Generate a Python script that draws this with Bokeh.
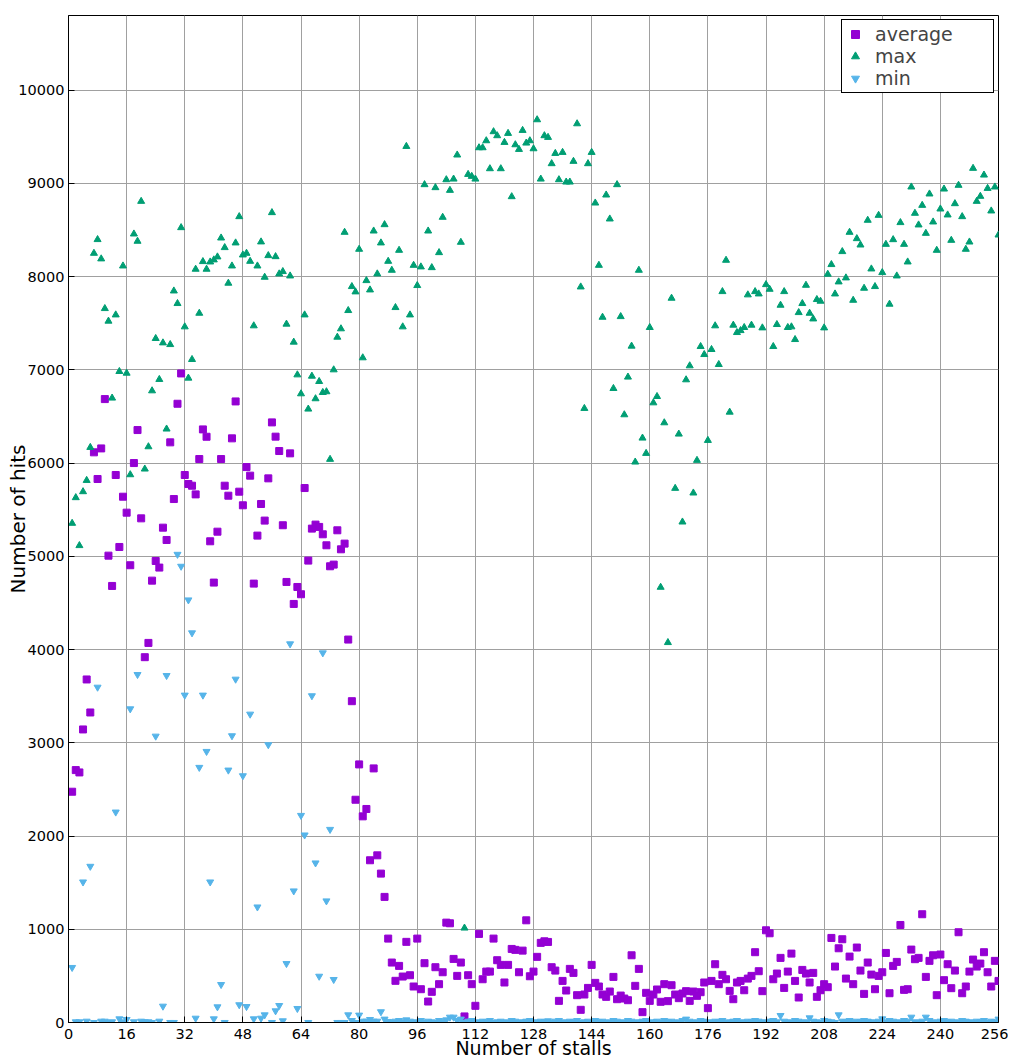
from bokeh.plotting import figure
from bokeh.models import Range1d, FixedTicker, Legend, LegendItem, ColumnDataSource
from bokeh.embed import file_html
from bokeh.resources import INLINE

stalls = list(range(1, 257))

hits_max = [
    5354, 5629, 5115, 5693, 5814, 6168, 8250, 8397, 8190, 7657,
    7522, 6697, 7589, 6982, 8114, 6964, 5875, 8457, 8379, 8807,
    5936, 6175, 6775, 7336, 6897, 7289, 6365, 7271, 7846, 7711,
    8525, 7461, 6911, 7111, 8079, 7607, 8161, 8079, 8157, 8179,
    8211, 8414, 8311, 7929, 8114, 8361, 8643, 8232, 8250, 8164,
    7472, 8114, 8372, 7993, 8225, 8686, 8214, 8029, 8054, 7490,
    8007, 7297, 6946, 6743, 7589, 6579, 6932, 6690, 6875, 6757,
    6765, 6040, 7000, 7350, 7440, 8475, 7636, 7893, 7836, 8293,
    7129, 7957, 7857, 8489, 8029, 8361, 8557, 8164, 8068, 7668,
    8282, 7461, 9396, 7589, 8121, 7904, 8104, 8986, 8489, 8096,
    8954, 8257, 8636, 9039, 8925, 9046, 9304, 8368, 1013, 9096,
    9075, 9046, 9382, 9382, 9457, 9157, 9554, 9511, 9157, 9439,
    9536, 8857, 9414, 9364, 9568, 9432, 9457, 9371, 9682, 9046,
    9511, 9493, 9211, 9321, 9039, 9332, 9014, 9014, 9236, 9639,
    7889, 6586, 9211, 9332, 8789, 8121, 7564, 8875, 8618, 6800,
    8986, 7571, 6518, 6922, 7254, 6011, 8068, 6268, 6104, 7454,
    6646, 6714, 4668, 6432, 4075, 7768, 5729, 6311, 5368, 6893,
    7043, 5679, 6029, 7250, 7164, 6243, 7218, 7472, 7057, 7839,
    8175, 6546, 7479, 7400, 7421, 7454, 7804, 7479, 7839, 7814,
    7450, 7914, 7864, 7250, 7486, 7693, 7839, 7454, 7461, 7325,
    7614, 7711, 7907, 7607, 7546, 7754, 7736, 7450, 8025, 8129,
    7814, 7943, 8268, 7986, 8475, 7746, 8407, 8339, 7875, 8604,
    8082, 7893, 8657, 8043, 8346, 7704, 8396, 8007, 8579, 8346,
    8157, 8961, 8679, 8554, 8764, 8464, 8886, 8586, 8282, 8725,
    8939, 8661, 8389, 8782, 8979, 8643, 8293, 8371, 9161, 8807,
    8861, 9089, 8946, 8704, 8961, 8446,
]

hits_avg = [
    2475, 2707, 2682, 3143, 3679, 3325, 6115, 5829, 6157, 6686,
    5007, 4682, 5872, 5100, 5639, 5468, 4904, 6000, 6354, 5407,
    3918, 4071, 4739, 4950, 4879, 5307, 5175, 6222, 5614, 6636,
    6961, 5872, 5775, 5757, 5664, 6043, 6361, 6282, 5161, 4718,
    5264, 6043, 5757, 5650, 6265, 6661, 5693, 5547, 5957, 5865,
    4707, 5222, 5561, 5383, 5836, 6436, 6283, 6129, 5333, 4725,
    6104, 4489, 4671, 4593, 5732, 4954, 5297, 5340, 5315, 5236,
    5118, 4893, 4911, 5279, 5075, 5136, 4107, 3446, 2389, 2768,
    2211, 2290, 1740, 2725, 1793, 1597, 1347, 900, 643, 447,
    607, 493, 865, 507, 386, 900, 357, 636, 225, 329,
    593, 411, 539, 1071, 1064, 682, 500, 643, 65, 507,
    411, 179, 950, 464, 546, 546, 900, 668, 618, 429,
    618, 789, 779, 539, 771, 1096, 496, 546, 704, 854,
    871, 864, 593, 557, 232, 446, 343, 575, 532, 293,
    136, 300, 371, 618, 425, 386, 300, 275, 332, 489,
    250, 289, 257, 239, 721, 393, 575, 111, 318, 232,
    300, 354, 222, 411, 229, 400, 300, 261, 311, 336,
    232, 332, 286, 325, 429, 154, 446, 625, 411, 511,
    464, 339, 250, 429, 446, 346, 471, 500, 754, 550,
    336, 989, 957, 464, 525, 693, 371, 546, 739, 446,
    268, 564, 525, 429, 532, 275, 346, 411, 379, 907,
    600, 796, 893, 471, 707, 411, 804, 557, 307, 643,
    514, 357, 500, 539, 746, 314, 607, 650, 1046, 350,
    357, 782, 679, 693, 1161, 489, 661, 721, 293, 729,
    454, 625, 368, 557, 968, 314, 386, 546, 675, 600,
    632, 754, 539, 386, 661, 446,
]

hits_min = [
    590, 7, 7, 1507, 14, 1675, 0, 3596, 14, 14,
    0, 7, 2257, 39, 7, 32, 3364, 7, 3732, 14,
    7, 7, 0, 3071, 14, 175, 3721, 0, 0, 5021,
    4893, 3511, 4532, 4179, 46, 2736, 3511, 2907, 1507, 39,
    168, 407, 0, 2707, 3075, 3682, 190, 2646, 171, 3307,
    39, 1239, 46, 82, 2979, 0, 125, 182, 18, 632,
    4061, 1411, 150, 2221, 2011, 0, 3504, 1711, 496, 3964,
    1304, 2071, 461, 0, 0, 0, 82, 21, 0, 79,
    14, 14, 32, 14, 14, 115, 36, 11, 0, 14,
    21, 7, 28, 14, 0, 7, 21, 0, 14, 7,
    0, 21, 14, 28, 57, 57, 21, 36, 0, 14,
    21, 7, 0, 14, 7, 21, 0, 7, 14, 0,
    7, 21, 14, 0, 7, 14, 21, 7, 0, 14,
    7, 18, 0, 14, 21, 7, 0, 14, 7, 21,
    0, 7, 14, 0, 21, 7, 14, 0, 7, 21,
    14, 0, 7, 21, 14, 0, 7, 14, 21, 0,
    7, 14, 0, 21, 7, 14, 0, 7, 21, 36,
    14, 0, 7, 21, 14, 7, 0, 14, 7, 21,
    0, 7, 14, 21, 7, 0, 14, 7, 21, 14,
    0, 7, 14, 21, 7, 75, 14, 0, 7, 21,
    14, 0, 7, 50, 14, 7, 0, 21, 14, 7,
    0, 82, 14, 7, 21, 0, 14, 7, 21, 14,
    7, 0, 14, 39, 7, 21, 14, 0, 7, 21,
    14, 57, 7, 0, 14, 57, 21, 7, 0, 14,
    21, 7, 14, 0, 7, 21, 14, 7, 0, 14,
    7, 21, 0, 14, 7, 36,
]

x_ticks = list(range(0, 257, 16))
y_ticks = list(range(0, 10001, 1000))

FONT = "DejaVu Sans"

p = figure(width=1008, height=1062,
           x_range=Range1d(0, 256), y_range=Range1d(0, 10800),
           output_backend="svg", toolbar_location=None,
           min_border_left=68, min_border_right=10,
           min_border_top=15, min_border_bottom=40)

p.outline_line_color = "black"
p.outline_line_width = 1
p.outline_line_alpha = 1

for ax in (p.xaxis[0], p.yaxis[0]):
    ax.axis_line_color = "black"
    ax.major_tick_in = 6
    ax.major_tick_out = 0
    ax.minor_tick_line_color = None
    ax.major_label_text_font = FONT
    ax.major_label_text_font_size = "14.5px"
    ax.major_label_text_color = "black"
    ax.axis_label_text_font = FONT
    ax.axis_label_text_font_size = "19px"
    ax.axis_label_text_font_style = "normal"
    ax.axis_label_text_color = "black"

p.xaxis[0].ticker = FixedTicker(ticks=x_ticks)
p.yaxis[0].ticker = FixedTicker(ticks=y_ticks)
p.xaxis[0].axis_label = "Number of stalls"
p.yaxis[0].axis_label = "Number of hits"
p.yaxis[0].axis_label_text_font_size = "20px"
p.xaxis[0].major_label_standoff = 6
p.xaxis[0].axis_label_standoff = -5
p.yaxis[0].major_label_standoff = 4
p.yaxis[0].axis_label_standoff = -15

p.grid.grid_line_color = "#a0a0a0"
p.grid.grid_line_width = 1
p.xgrid.ticker = FixedTicker(ticks=x_ticks)
p.ygrid.ticker = FixedTicker(ticks=y_ticks)

src = ColumnDataSource(dict(x=stalls, avg=hits_avg, mx=hits_max, mn=hits_min))

r_avg = p.scatter("x", "avg", source=src, marker="square", size=7,
                  fill_color="#9400d3", line_color="#9400d3")
r_max = p.scatter("x", "mx", source=src, marker="triangle", size=7,
                  fill_color="#009e73", line_color="#009e73")
r_min = p.scatter("x", "mn", source=src, marker="inverted_triangle", size=7,
                  fill_color="#56b4e9", line_color="#56b4e9")

legend = Legend(items=[LegendItem(label="average", renderers=[r_avg]),
                       LegendItem(label="max", renderers=[r_max]),
                       LegendItem(label="min", renderers=[r_min])],
                location="top_right",
                border_line_color="black", border_line_width=1, border_line_alpha=1,
                background_fill_color="white", background_fill_alpha=1,
                label_text_font=FONT, label_text_font_size="19px",
                label_height=20, glyph_height=20, glyph_width=20,
                spacing=0, padding=3, margin=4, label_standoff=10,
                label_width=115)
p.add_layout(legend)

with open("out.html", "w") as f:
    f.write(file_html(p, INLINE))
